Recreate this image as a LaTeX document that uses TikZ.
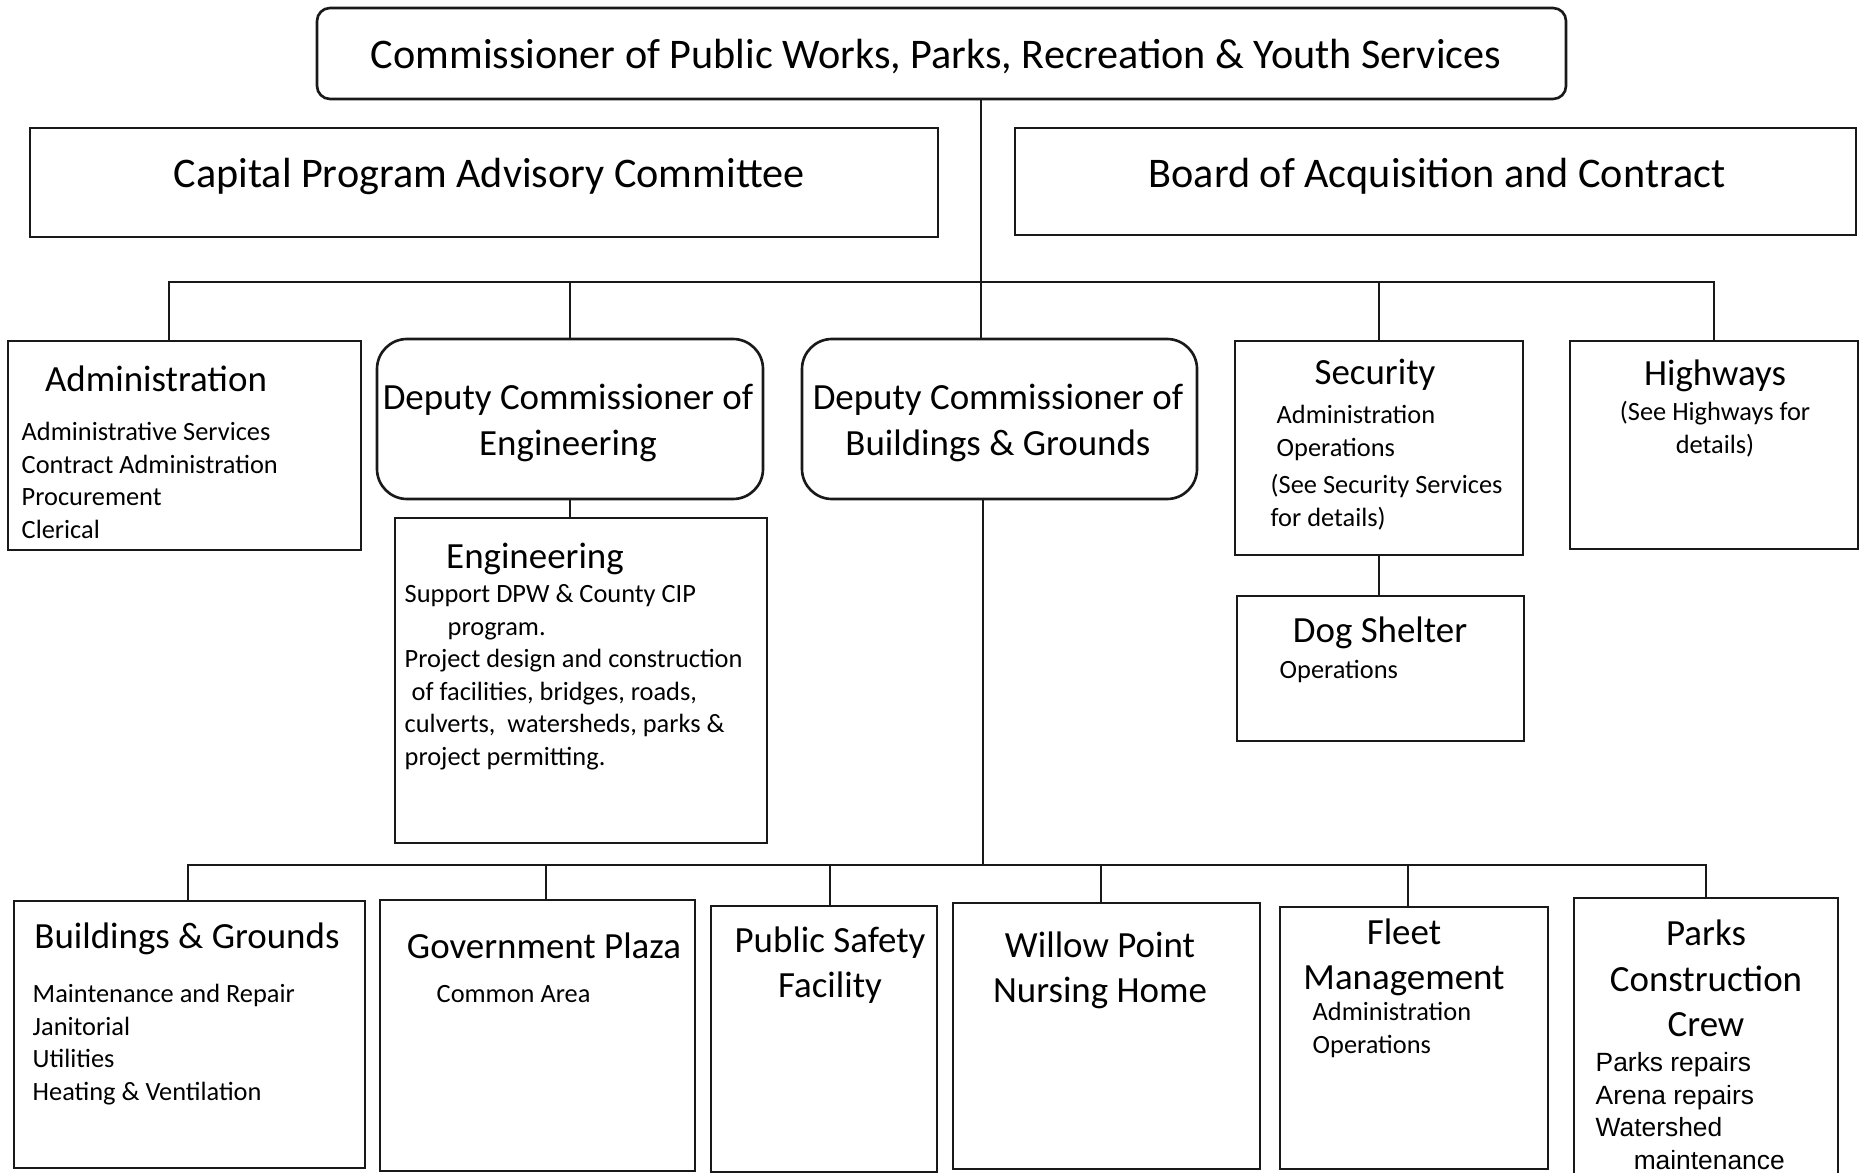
\documentclass[tikz,border=0pt]{standalone}
\usepackage{fontspec}
\setmainfont{Carlito}
\newfontfamily\arialfont{Liberation Sans}
\usetikzlibrary{positioning,fit}

\begin{document}
\begin{tikzpicture}[x=0.01cm,y=-0.01cm]
  \tikzset{
    unit/.style={draw=black!90,line width=0.75pt,inner sep=0pt},
    chief/.style={unit,rounded corners=0.13cm},
    deputy/.style={unit,rounded corners=0.3cm},
    bigtext/.style={inner sep=0pt,anchor=base,font=\fontsize{12}{14.6}\selectfont},
    headtext/.style={inner sep=0pt,anchor=base,align=center,
      font=\fontsize{10.5}{12.8}\selectfont},
    listtext/.style={inner sep=0pt,anchor=base west,align=left,
      font=\fontsize{7.5}{9.25}\selectfont},
    link/.style={line width=0.75pt,draw=black!90}
  }
  \useasboundingbox (0,0) rectangle (1864,1173);

  % top level and committees (text nodes sit on the baseline of their last line)
  \node[chief,fit={(317,8) (1566,99)}] (commish) {};
  \node[bigtext] (commish-t) at (936,68.5)
    {Commissioner of Public Works, Parks, Recreation \& Youth Services};
  \node[unit,fit={(30,128) (938,237)}] (capital) {};
  \node[bigtext] (capital-t) at (489,187.5) {Capital Program Advisory Committee};
  \node[unit,fit={(1015,128) (1856,235)}] (board) {};
  \node[bigtext] (board-t) at (1437,187.5) {Board of Acquisition and Contract};

  % second row
  \node[unit,fit={(8,341) (361,550)}] (admin) {};
  \node[headtext] (admin-t) at (156,391) {Administration};
  \node[listtext] (admin-l) at (21,538.5)
    {Administrative Services\\Contract Administration\\Procurement\\Clerical};

  \node[deputy,fit={(377,339) (763,499)}] (deng) {};
  \node[headtext] (deng-t) at (568,455) {Deputy Commissioner of\\Engineering};
  \node[deputy,fit={(802,339) (1197,499)}] (dbg) {};
  \node[headtext] (dbg-t) at (998,455) {Deputy Commissioner of\\Buildings \& Grounds};

  \node[unit,fit={(1235,341) (1523,555)}] (sec) {};
  \node[headtext] (sec-t) at (1375,384) {Security};
  \node[listtext] (sec-l) at (1276,456.5) {Administration\\Operations};
  \node[listtext] (sec-n) at (1270,526.5) {(See Security Services\\for details)};

  \node[unit,fit={(1570,341) (1858,549)}] (hwy) {};
  \node[headtext] (hwy-t) at (1715,385) {Highways};
  \node[listtext,anchor=base,align=center] (hwy-n) at (1715,453.5)
    {(See Highways for\\details)};

  \node[unit,fit={(395,518) (767,843)}] (eng) {};
  \node[headtext] (eng-t) at (535,568) {Engineering};
  \node[listtext] (eng-l) at (404,765.5)
    {Support DPW \& County CIP\\\hspace*{0.43cm}program.\\
     Project design and construction\\\hspace*{0.07cm}of facilities, bridges, roads,\\
     culverts, \ watersheds, parks \&\\project permitting.};

  \node[unit,fit={(1237,596) (1524,741)}] (dog) {};
  \node[headtext] (dog-t) at (1380,642) {Dog Shelter};
  \node[listtext] (dog-l) at (1279,678) {Operations};

  % bottom row
  \node[unit,fit={(14,901) (365,1168)}] (bg) {};
  \node[headtext] (bg-t) at (187,948) {Buildings \& Grounds};
  \node[listtext] (bg-l) at (32,1100.5)
    {Maintenance and Repair\\Janitorial\\Utilities\\Heating \& Ventilation};

  \node[unit,fit={(380,900) (695,1171)}] (gov) {};
  \node[headtext] (gov-t) at (544,958) {Government Plaza};
  \node[listtext] (gov-l) at (436,1002) {Common Area};

  \node[unit,fit={(711,906) (937,1172)}] (psf) {};
  \node[headtext] (psf-t) at (830,997) {Public Safety\\Facility};

  \node[unit,fit={(953,903) (1260,1169)}] (willow) {};
  \node[headtext] (willow-t) at (1100,1002) {Willow Point\\Nursing Home};

  \node[unit,fit={(1280,907) (1548,1169)}] (fleet) {};
  \node[headtext] (fleet-t) at (1404,989) {Fleet\\Management};
  \node[listtext] (fleet-l) at (1312,1053.5) {Administration\\Operations};

  \node[unit,fit={(1574,898) (1838,1195)}] (parks) {};
  \node[headtext] (parks-t) at (1706,1036) {Parks\\Construction\\Crew};
  \node[listtext,font=\arialfont\fontsize{7.5}{9.25}\selectfont] (parks-l) at (1595,1169.5)
    {Parks repairs\\Arena repairs\\Watershed\\\hspace*{0.38cm}maintenance};

  % connectors
  \coordinate (ubus) at (981,282);
  \coordinate (lbus) at (983,865);
  \draw[link] (commish.south -| ubus) -- (dbg.north -| ubus);
  \draw[link] ([xshift=-0.155cm]admin.north) |- (ubus) -| (hwy.north);
  \draw[link] (deng.north) -- (deng.north |- ubus);
  \draw[link] (sec.north) -- (sec.north |- ubus);
  \draw[link] (deng.south) -- (deng.south |- eng.north);
  \draw[link] (sec.south) -- (sec.south |- dog.north);
  \draw[link] (dbg.south -| lbus) -- (lbus);
  \draw[link] ([xshift=-0.015cm]bg.north) |- (lbus) -| (parks.north);
  \draw[link] ([xshift=0.085cm]gov.north) -- ([xshift=0.085cm]gov.north |- lbus);
  \draw[link] ([xshift=0.06cm]psf.north) -- ([xshift=0.06cm]psf.north |- lbus);
  \draw[link] ([xshift=-0.055cm]willow.north) -- ([xshift=-0.055cm]willow.north |- lbus);
  \draw[link] ([xshift=-0.06cm]fleet.north) -- ([xshift=-0.06cm]fleet.north |- lbus);
\end{tikzpicture}
\end{document}
